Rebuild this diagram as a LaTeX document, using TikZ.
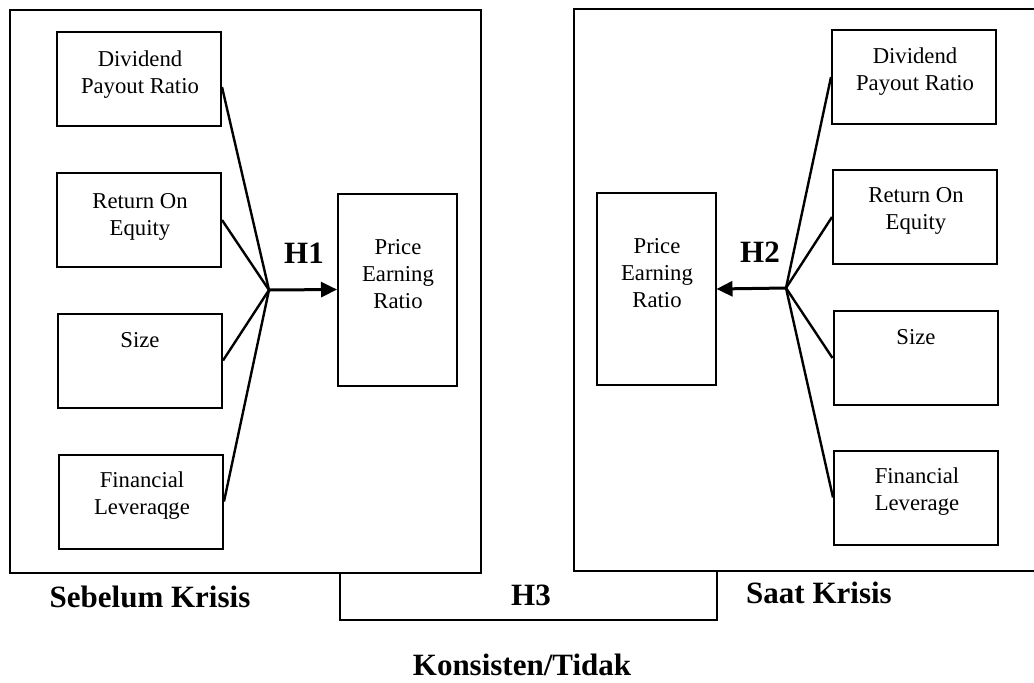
\documentclass[tikz,border=0pt]{standalone}
\usepackage{fontspec}
\setmainfont{Liberation Serif}
\usetikzlibrary{arrows.meta}

\tikzset{
  frame/.style={draw=black, line width=1pt},
  varbox/.style={draw=black, line width=1pt, rectangle, inner sep=0pt,
    minimum width=82pt, minimum height=47pt},
  perbox/.style={draw=black, line width=1pt, rectangle, inner sep=0pt,
    minimum width=59.5pt, minimum height=96pt},
  boxtext/.style={anchor=north, inner sep=0pt, align=center,
    font=\fontsize{11.35}{13.5}\selectfont},
  hyp/.style={inner sep=0pt, font=\fontsize{15.5}{18}\selectfont\bfseries},
  spoke/.style={draw=black, line width=1.2pt},
  arr/.style={draw=black, line width=1.5pt,
    -{Triangle[length=8pt,width=7.5pt]}},
}

\begin{document}
\begin{tikzpicture}[x=0.5pt, y=-0.5pt]
  \useasboundingbox (0,0) rectangle (1034,682);
  \clip (0,0) rectangle (1034,682);

  % outer panels: before crisis / during crisis
  \draw[frame] (10,10) rectangle (481,573);
  \draw[frame] (574,9) rectangle (1045,571);
  % H3 bracket joining the two panels
  \draw[frame] (340,573) -- (340,620) -- (717,620) -- (717,571);

  % ---------- left panel ----------
  \node[varbox] (ldpr) at (139,79) {};
  \node[varbox] (lroe) at (139,220) {};
  \node[varbox] (lsize) at (140,360.5) {};
  \node[varbox] (lfl) at (141,501.5) {};
  \node[perbox] (lper) at (397.5,289.5) {};

  \node[boxtext] (ldprT) at (140,50) {Dividend\\Payout Ratio};
  \node[boxtext] (lroeT) at (140,193) {Return On\\Equity};
  \node[boxtext] (lsizeT) at (140,332) {Size};
  \node[boxtext] (lflT) at (142,471) {Financial\\Leveraqge};
  \node[boxtext] (lperT) at (398,239) {Price\\Earning\\Ratio};

  \coordinate (hubL) at (269,290);
  \draw[spoke] ([yshift=-4pt]ldpr.east) -- (hubL);
  \draw[spoke] (lroe.east) -- (hubL);
  \draw[spoke] (lsize.east) -- (hubL);
  \draw[spoke] (lfl.east) -- (hubL);
  \draw[arr] (hubL) -- (lper.west);
  \node[hyp] (h1) at (304,253) {H1};

  % ---------- right panel ----------
  \node[varbox] (rdpr) at (914,77) {};
  \node[varbox] (rroe) at (915,217) {};
  \node[varbox] (rsize) at (915.5,358) {};
  \node[varbox] (rfl) at (916,497.5) {};
  \node[perbox] (rper) at (656,289) {};

  \node[boxtext] (rdprT) at (915,47) {Dividend\\Payout Ratio};
  \node[boxtext] (rroeT) at (916,187) {Return On\\Equity};
  \node[boxtext] (rsizeT) at (916,329) {Size};
  \node[boxtext] (rflT) at (917,467) {Financial\\Leverage};
  \node[boxtext] (rperT) at (657,238) {Price\\Earning\\Ratio};

  \coordinate (hubR) at (786,288);
  \draw[spoke] (rdpr.west) -- (hubR);
  \draw[spoke] (rroe.west) -- (hubR);
  \draw[spoke] (rsize.west) -- (hubR);
  \draw[spoke] (rfl.west) -- (hubR);
  \draw[arr] (hubR) -- (rper.east);
  \node[hyp] (h2) at (760,252) {H2};

  % ---------- captions ----------
  \node[hyp] (before) at (150,597) {Sebelum Krisis};
  \node[hyp] (during) at (819,593) {Saat Krisis};
  \node[hyp] (h3) at (531,595) {H3};
  \node[hyp] (consist) at (522,665) {Konsisten/Tidak};
\end{tikzpicture}
\end{document}
